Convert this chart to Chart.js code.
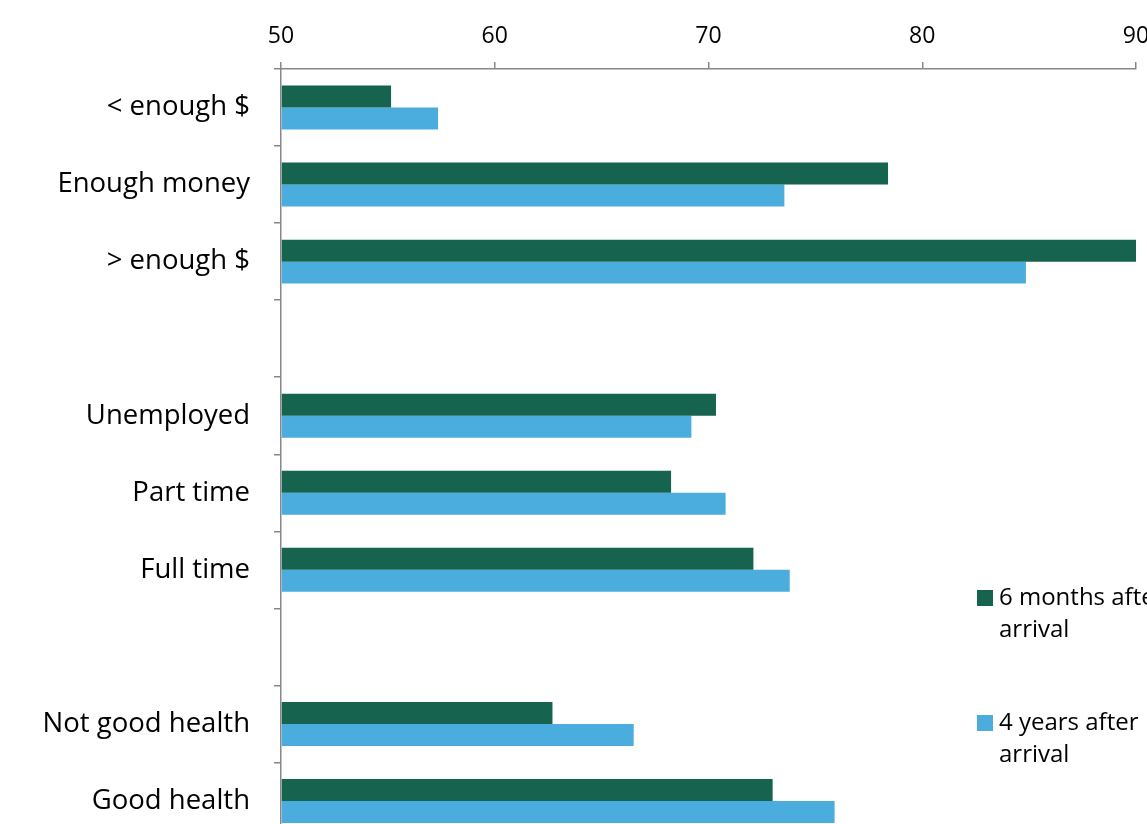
<!DOCTYPE html>
<html>
<head>
<meta charset="utf-8">
<script src="https://cdn.jsdelivr.net/npm/chart.js@4.4.1/dist/chart.umd.min.js"></script>
<style>
  html, body { margin: 0; padding: 0; background: #fff; overflow: hidden; }
  #wrap { width: 1200px; height: 880px; position: relative; }
</style>
</head>
<body>
<div id="wrap"><canvas id="grafico"></canvas></div>
<script>
const categorias = ["< enough $", "Enough money", "> enough $", "", "Unemployed", "Part time", "Full time", "", "Not good health", "Good health"];
const seisMeses = [55.15, 78.4, 90.0, null, 70.35, 68.25, 72.1, null, 62.7, 73.0];
const cuatroAnios = [57.35, 73.55, 84.85, null, 69.2, 70.8, 73.8, null, 66.5, 75.9];
const ticksX = [50, 60, 70, 80, 90];
const series = ["6 months after arrival", "4 years after arrival"];

const FONT = "'Open Sans', 'Noto Sans', sans-serif";

// legend drawn by hand so the labels wrap like the original
const leyenda = {
    id: "leyenda",
    afterDraw(chart) {
        const ctx = chart.ctx;
        const items = [
            { y: 598, lines: ["6 months after", "arrival"] },
            { y: 723, lines: ["4 years after", "arrival"] }
        ];
        ctx.save();
        ctx.font = "24px " + FONT;
        ctx.textBaseline = "middle";
        items.forEach((it, i) => {
            const ds = chart.data.datasets[i];
            ctx.fillStyle = ds.backgroundColor;
            ctx.fillRect(977, it.y - 8, 16, 16);
            ctx.fillStyle = "#000";
            it.lines.forEach((t, j) => ctx.fillText(t, 999, it.y + j * 32));
        });
        ctx.restore();
    }
};

const ctx = document.getElementById("grafico").getContext("2d");
new Chart(ctx, {
    type: "bar",
    data: {
        labels: categorias,
        datasets: [
            { label: series[0], data: seisMeses, backgroundColor: "#16634f", base: 50 },
            { label: series[1], data: cuatroAnios, backgroundColor: "#4badde", base: 50 }
        ]
    },
    plugins: [leyenda],
    options: {
        indexAxis: "y",
        responsive: true,
        maintainAspectRatio: false,
        animation: false,
        categoryPercentage: 0.571,
        barPercentage: 1,
        layout: { padding: { left: 10, right: 64, top: 0, bottom: 11 } },
        plugins: {
            legend: { display: false },
            tooltip: { enabled: false }
        },
        scales: {
            x: {
                position: "top",
                min: 50,
                max: 90,
                afterBuildTicks: (s) => { s.ticks = ticksX.map(v => ({ value: v })); },
                afterFit: (s) => { s.height = 69; },
                border: { color: "#878787", width: 1.5 },
                grid: { drawOnChartArea: false, tickLength: 7, color: "#878787", lineWidth: 1.5 },
                ticks: { color: "#000", font: { family: FONT, size: 23 }, padding: 12, maxRotation: 0 }
            },
            y: {
                afterFit: (s) => { s.width = 271; },
                border: { color: "#878787", width: 1.5 },
                grid: { drawOnChartArea: false, tickLength: 7, color: "#878787", lineWidth: 1.5, offset: true },
                ticks: { color: "#000", font: { family: FONT, size: 27.5 }, padding: 24 }
            }
        }
    }
});
</script>
</body>
</html>
